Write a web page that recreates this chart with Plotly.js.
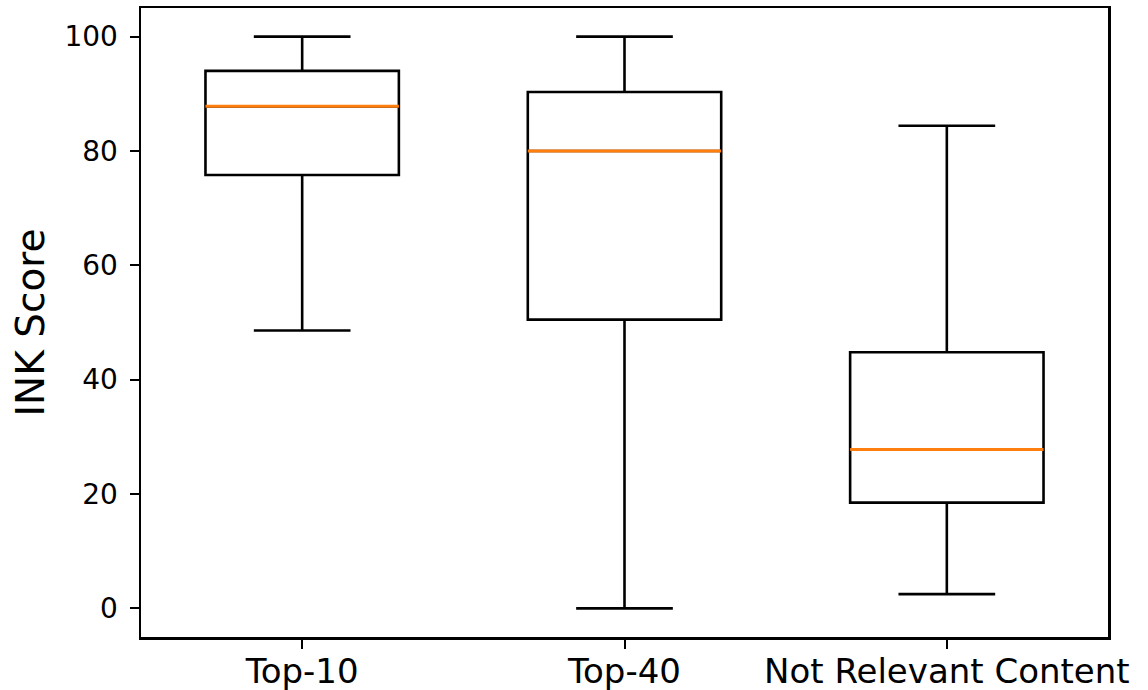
<!DOCTYPE html>
<html>
<head>
<meta charset="utf-8">
<script src="https://cdn.plot.ly/plotly-3.0.1.min.js"></script>
<style>html,body{margin:0;padding:0;background:#fff;}#chart{width:1148px;height:690px;}</style>
</head>
<body>
<div id="chart"></div>
<script>
const categories = ["Top-10", "Top-40", "Not Relevant Content"];
const lowerWhisker = [48.6, 0.0, 2.5];
const q1Values = [75.8, 50.5, 18.5];
const medianValues = [87.8, 80.0, 27.8];
const q3Values = [94.0, 90.3, 44.8];
const upperWhisker = [100.0, 100.0, 84.4];
const yTickValues = [0, 20, 40, 60, 80, 100];

const positions = categories.map((c, i) => i);
const boxWidth = 0.6;

const boxTrace = {
  type: 'box',
  x: positions,
  q1: q1Values,
  median: medianValues,
  q3: q3Values,
  lowerfence: lowerWhisker,
  upperfence: upperWhisker,
  width: boxWidth,
  whiskerwidth: 0.5,
  boxpoints: false,
  fillcolor: 'rgba(255,255,255,0)',
  line: {color: '#000000', width: 2.6},
  hoverinfo: 'skip',
  showlegend: false
};

const mx = [], my = [];
positions.forEach((p, i) => {
  mx.push(p - boxWidth / 2, p + boxWidth / 2, null);
  my.push(medianValues[i], medianValues[i], null);
});
const medianTrace = {
  type: 'scatter',
  mode: 'lines',
  x: mx,
  y: my,
  line: {color: '#ff7f0e', width: 3},
  hoverinfo: 'skip',
  showlegend: false
};

const layout = {
  width: 1148,
  height: 690,
  paper_bgcolor: '#ffffff',
  plot_bgcolor: '#ffffff',
  margin: {l: 141, r: 40, t: 8, b: 53},
  font: {family: 'DejaVu Sans, sans-serif', color: '#000000'},
  showlegend: false,
  xaxis: {
    type: 'linear',
    range: [-0.5, 2.5],
    tickmode: 'array',
    tickvals: positions,
    ticktext: categories,
    ticks: 'outside',
    ticklen: 9,
    tickwidth: 2,
    tickcolor: '#000',
    ticklabelstandoff: -6,
    tickfont: {size: 34, family: 'DejaVu Sans, sans-serif', color: '#000'},
    showline: true,
    linecolor: '#000',
    linewidth: 2.5,
    mirror: true,
    showgrid: false,
    zeroline: false
  },
  yaxis: {
    range: [-5, 105],
    tickmode: 'array',
    tickvals: yTickValues,
    ticktext: yTickValues.map(String),
    ticks: 'outside',
    ticklen: 9,
    tickwidth: 2,
    tickcolor: '#000',
    ticklabelstandoff: 6,
    tickfont: {size: 28, family: 'DejaVu Sans, sans-serif', color: '#000'},
    showline: true,
    linecolor: '#000',
    linewidth: 2.5,
    mirror: true,
    showgrid: false,
    zeroline: false,
    title: {text: 'INK Score', font: {size: 39, family: 'DejaVu Sans, sans-serif', color: '#000'}, standoff: 8}
  }
};

Plotly.newPlot('chart', [boxTrace, medianTrace], layout, {displayModeBar: false, staticPlot: true});
</script>
</body>
</html>
